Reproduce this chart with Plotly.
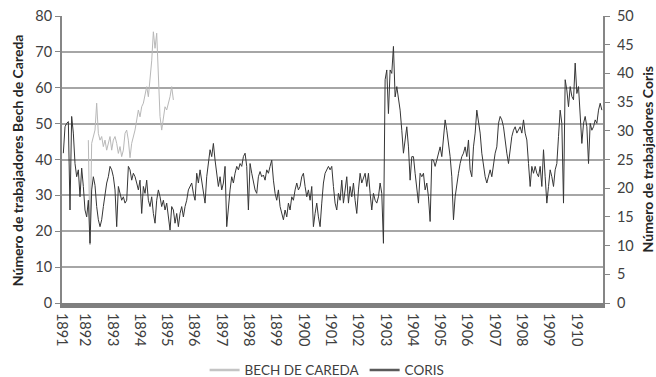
import numpy as np
import plotly.graph_objects as go

# ---- axis labels -------------------------------------------------------
year_labels = ["1891", "1892", "1893", "1894", "1895", "1896", "1897", "1898", "1899", "1900",
               "1901", "1902", "1903", "1904", "1905", "1906", "1907", "1908", "1909", "1910"]
year_ticks = [1891.157, 1892, 1893, 1894, 1895, 1896, 1897, 1898, 1899, 1900,
              1901, 1902, 1903, 1904, 1905, 1906, 1907, 1908, 1909, 1910]

# ---- sampling of the series (decimal years) -------------------------
sample_step_years = 0.06109
coris_start_year = 1891.206
bech_start_year = 1892.122

# ---- CORIS (right axis) -----------------------------------------------
coris_1891_1896 = [26.1, 30.7, 31.3, 31.6, 16.2, 32.5, 29.6, 24.3, 22.0, 23.2,
                   18.5, 23.5, 20.3, 16.2, 15.0, 17.9, 10.4, 19.7, 22.0, 20.5,
                   16.8, 14.5, 13.3, 14.5, 16.8, 19.1, 20.9, 22.0, 23.8, 23.2,
                   22.0, 19.7, 13.3, 20.3, 19.1, 17.9, 18.5, 17.4, 17.9, 23.8,
                   23.2, 21.4, 22.6, 22.0, 20.9, 19.7, 21.4, 15.6, 20.3, 19.1,
                   21.4, 17.9, 16.8, 18.5, 15.6, 13.9, 17.9, 19.7, 18.5, 16.8,
                   17.9, 16.2, 17.4, 15.0, 12.7, 16.8, 16.2, 13.9, 15.6, 13.3,
                   15.6, 16.8, 15.0, 16.8, 17.9, 19.7, 20.3, 20.9, 19.1]
coris_1896_1901 = [17.9, 22.6, 20.9, 23.2, 21.4, 19.7, 17.4, 22.0, 24.9, 26.7,
                   25.5, 27.8, 24.9, 22.0, 20.3, 22.0, 19.7, 20.9, 23.8, 13.3,
                   17.4, 19.7, 22.0, 20.9, 22.6, 23.8, 23.2, 24.3, 23.8, 25.5,
                   26.1, 23.8, 16.2, 24.3, 22.6, 21.4, 19.7, 19.1, 22.0, 22.9,
                   22.0, 22.3, 21.4, 23.2, 22.6, 23.8, 24.9, 21.4, 19.1, 17.9,
                   19.7, 16.8, 15.6, 14.5, 16.2, 15.0, 17.4, 16.2, 18.5, 17.9,
                   19.7, 20.9, 19.7, 20.3, 22.0, 22.6, 20.3, 18.5, 19.7, 17.9,
                   20.3, 13.3, 15.6, 17.4, 15.0, 13.3, 17.4, 20.9, 22.6, 23.2,
                   23.8]
coris_1901_1906 = [23.2, 23.8, 20.3, 17.4, 16.2, 19.1, 17.9, 21.4, 17.4, 19.7,
                   22.0, 17.4, 20.3, 18.5, 20.9, 17.9, 15.6, 19.7, 22.6, 20.9,
                   22.0, 22.6, 20.3, 22.6, 19.1, 16.2, 19.1, 17.9, 17.4, 18.5,
                   20.9, 19.1, 10.4, 38.9, 40.6, 33.0, 40.6, 40.0, 44.7, 35.9,
                   37.7, 35.4, 33.6, 30.1, 26.1, 28.4, 30.7, 27.2, 21.4, 25.5,
                   25.5, 22.6, 20.3, 17.4, 22.6, 22.0, 22.6, 19.7, 20.9, 18.5,
                   14.2, 25.0, 24.9, 23.8, 24.9, 26.1, 27.2, 25.5, 28.4, 31.9,
                   30.1, 27.8, 25.5, 22.0, 14.5, 18.5, 20.9, 22.6, 24.3, 25.5,
                   26.1]
coris_1906_1911 = [27.2, 25.5, 28.4, 23.2, 22.0, 27.2, 29.6, 33.6, 31.9, 29.6,
                   26.1, 23.8, 22.0, 20.9, 22.0, 23.2, 22.0, 24.3, 26.1, 27.2,
                   31.3, 32.5, 31.9, 30.7, 27.8, 26.1, 24.3, 26.7, 29.0, 30.1,
                   30.7, 29.6, 30.1, 30.7, 29.6, 31.9, 29.6, 28.4, 24.3, 20.3,
                   23.8, 22.6, 23.8, 22.6, 22.0, 23.8, 20.3, 26.7, 22.0, 17.4,
                   20.3, 23.2, 22.0, 20.3, 23.2, 24.3, 29.0, 33.6, 31.3, 17.4,
                   38.9, 37.1, 34.2, 37.7, 36.0, 35.4, 41.8, 36.5, 37.7, 32.5,
                   27.8, 31.3, 32.5, 30.7, 24.3, 31.3, 30.1, 30.7, 31.9, 31.3,
                   33.6, 34.8, 33.6]

# ---- BECH DE CAREDA (left axis) ----------------------------------------
bech_values = [45.4, 16.2, 44.5, 46.8, 48.2, 55.7, 47.3, 45.4, 46.4, 43.6,
               45.4, 42.6, 44.5, 46.4, 42.6, 45.4, 46.4, 44.5, 41.7, 43.6,
               40.8, 42.6, 47.3, 48.2, 45.4, 40.5, 44.5, 46.4, 48.2, 51.0,
               53.8, 51.9, 54.7, 55.7, 58.4, 60.3, 57.5, 63.0, 67.5, 75.6,
               71.0, 75.2, 62.0, 52.0, 48.2, 51.9, 54.7, 53.8, 55.7, 57.5,
               60.3, 56.6]

coris_values = coris_1891_1896 + coris_1896_1901 + coris_1901_1906 + coris_1906_1911
coris_years = coris_start_year + sample_step_years * np.arange(len(coris_values))
bech_years = bech_start_year + sample_step_years * np.arange(len(bech_values))

FONT = "Lato"
TXT = "#404040"
AXIS = "#868686"

fig = go.Figure()
fig.add_trace(go.Scatter(x=bech_years, y=bech_values, mode="lines",
                         line=dict(color="#b8b8b8", width=1), showlegend=False,
                         hoverinfo="skip"))
fig.add_trace(go.Scatter(x=coris_years, y=coris_values, mode="lines", yaxis="y2",
                         line=dict(color="#363636", width=1), showlegend=False,
                         hoverinfo="skip"))
# legend entries
fig.add_trace(go.Scatter(x=[None], y=[None], mode="lines", name="BECH DE CAREDA",
                         line=dict(color="#c4c4c4", width=2.5)))
fig.add_trace(go.Scatter(x=[None], y=[None], mode="lines", name="CORIS", yaxis="y2",
                         line=dict(color="#5a5a5a", width=2.5)))

fig.update_layout(
    width=656, height=377,
    margin=dict(l=62, r=53, t=16, b=74, autoexpand=False),
    paper_bgcolor="white", plot_bgcolor="white",
    font=dict(family=FONT, color=TXT, size=14),
    xaxis=dict(range=[1891.157, 1910.98], tickvals=year_ticks, ticktext=year_labels,
               tickangle=90, showgrid=False, zeroline=False, showline=True,
               linecolor="#7f7f7f", linewidth=5, ticks="outside", ticklen=2,
               tickcolor="rgba(0,0,0,0)", automargin=False,
               tickfont=dict(size=14.5, color=TXT, family=FONT)),
    yaxis=dict(range=[0, 80], tick0=0, dtick=10, showgrid=True, gridcolor="#a6a6a6",
               gridwidth=1.5, zeroline=False, showline=True, linecolor=AXIS,
               linewidth=2, ticks="outside", ticklen=5, tickcolor=AXIS, automargin=False,
               tickfont=dict(size=14.5, color=TXT, family=FONT)),
    yaxis2=dict(range=[0, 50], tick0=0, dtick=5, overlaying="y", side="right",
                showgrid=False, zeroline=False, showline=True, linecolor=AXIS,
                linewidth=2, ticks="outside", ticklen=5, tickcolor=AXIS, automargin=False,
                ticklabelstandoff=4,
                tickfont=dict(size=14.5, color=TXT, family=FONT)),
    legend=dict(orientation="h", x=0.49, xanchor="center", yref="container",
                y=0.018, yanchor="middle",
                font=dict(size=13.5, color=TXT, family=FONT), bgcolor="rgba(0,0,0,0)"),
    annotations=[
        dict(text="<b>Número de trabajadores Bech de Careda</b>", textangle=-90,
             xref="paper", yref="paper", x=-0.083, y=0.498, xanchor="center",
             yanchor="middle", showarrow=False, font=dict(size=14, color="#262626", family=FONT)),
        dict(text="<b>Número de trabajadores Coris</b>", textangle=-90,
             xref="paper", yref="paper", x=1.083, y=0.50, xanchor="center",
             yanchor="middle", showarrow=False, font=dict(size=14, color="#262626", family=FONT)),
    ],
)

fig.write_html("out.html")
